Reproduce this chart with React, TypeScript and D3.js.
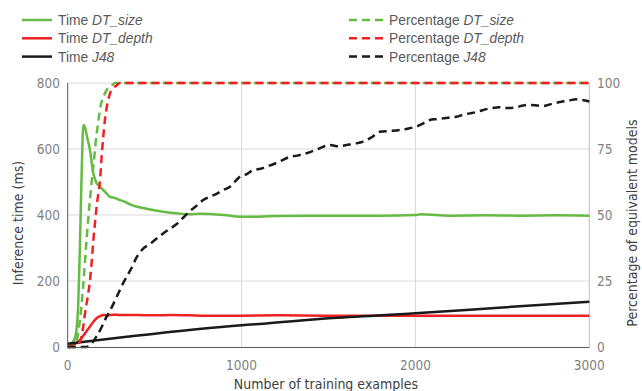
import React from "react";
import * as d3 from "d3";

const W = 642;
const H = 391;

// ---- data ----
const greenTimeX = [0, 20, 40, 50, 60, 70, 80, 90, 100, 110, 128, 147, 166, 186, 215, 243, 270, 301, 330, 358, 400, 433, 460, 491, 550, 627, 700, 760, 818, 900, 991, 1100, 1200, 1400, 1600, 1800, 2000, 2030, 2200, 2400, 2600, 2800, 3000];
const greenTimeY = [5, 10, 25, 50, 120, 300, 520, 673, 665, 640, 597, 527, 497, 485, 470, 455, 452, 445, 440, 432, 425, 421, 418, 415, 410, 405, 402, 404, 403, 400, 395, 395, 397, 398, 398, 398, 400, 402, 398, 399, 398, 399, 398];

const redTimeX = [0, 30, 50, 71, 100, 128, 150, 166, 185, 205, 230, 260, 300, 400, 500, 600, 700, 800, 1000, 1200, 1500, 1800, 2000, 2500, 3000];
const redTimeY = [0, 5, 12, 21, 42, 62, 78, 87, 93, 97, 96, 98, 97, 97, 96, 97, 96, 95, 95, 96, 95, 95, 95, 95, 95];

const blackTimeX = [0, 339, 1000, 1106, 1500, 2000, 2500, 3000];
const blackTimeY = [10, 31, 66, 70, 87, 102, 120, 137];

const greenPctX = [0, 30, 50, 60, 70, 80, 90, 100, 110, 120, 130, 140, 150, 160, 175, 186, 200, 214, 230, 250, 275, 300, 3000];
const greenPctY = [0, 0, 2, 5, 10, 16, 24, 33, 42, 50, 57, 64, 70, 77, 85, 90, 94, 96, 98, 99, 100, 100, 100];

const redPctX = [0, 50, 60, 70, 80, 90, 100, 115, 128, 140, 147, 160, 166, 176, 186, 195, 205, 214, 228, 243, 260, 280, 300, 3000];
const redPctY = [0, 0, 1, 2, 4, 8, 13, 19, 25, 34, 40, 49, 53, 58, 63, 72, 80, 86, 92, 96, 98, 99, 100, 100];

const blackPctX = [0, 60, 109, 140, 166, 195, 224, 253, 282, 310, 339, 368, 397, 430, 473, 510, 549, 580, 607, 635, 664, 695, 722, 750, 779, 820, 856, 895, 933, 960, 990, 1030, 1067, 1110, 1144, 1210, 1277, 1320, 1374, 1440, 1508, 1560, 1604, 1650, 1700, 1750, 1795, 1850, 1910, 1960, 2006, 2040, 2083, 2120, 2159, 2200, 2236, 2275, 2313, 2350, 2390, 2440, 2484, 2530, 2580, 2620, 2657, 2700, 2733, 2790, 2848, 2890, 2925, 2960, 3000];
const blackPctY = [0, 0, 0, 1.5, 4, 7.5, 11.5, 15, 19, 23, 26.6, 30, 34, 37, 39, 41, 43, 44.5, 45.6, 47, 49, 51, 52.5, 54, 55.7, 57, 58, 59.5, 60.7, 62.5, 64.5, 65.5, 67, 67.5, 68.3, 70, 72, 72.5, 73.4, 75, 76.5, 76, 76.5, 77, 77.8, 79.5, 81.5, 81.8, 82.2, 82.8, 83.5, 84.5, 86, 86.3, 86.6, 87, 87.2, 88, 88.5, 89, 89.8, 90.5, 90.8, 90.5, 90.8, 91.5, 91.7, 91.5, 91.3, 92.2, 93, 93.5, 93.8, 93.6, 93];

const xTicks = [0, 1000, 2000, 3000];
const yLeftTicks = [0, 200, 400, 600, 800];
const yRightTicks = [0, 25, 50, 75, 100];

const GREEN = "#66bb44";
const RED = "#ee2222";
const BLACK = "#1a1a1a";

const AXIS_FONT = "'DejaVu Sans Condensed', 'DejaVu Sans', sans-serif";
const LEGEND_FONT = "'Liberation Sans', Arial, sans-serif";

export default function App() {
  const x = d3.scaleLinear().domain([0, 3000]).range([67.7, 589.3]);
  const yL = d3.scaleLinear().domain([0, 800]).range([347, 83]);
  const yR = d3.scaleLinear().domain([0, 100]).range([347, 83]);

  const mk = (xs: number[], ys: number[], ys2: any) =>
    d3
      .line<number>()
      .x((_, i) => x(xs[i]))
      .y((v) => ys2(v))
      .curve(d3.curveMonotoneX)(ys) as string;

  const series = [
    { xs: greenTimeX, ys: greenTimeY, s: yL, c: GREEN, dash: null },
    { xs: redTimeX, ys: redTimeY, s: yL, c: RED, dash: null },
    { xs: blackTimeX, ys: blackTimeY, s: yL, c: BLACK, dash: null },
    { xs: greenPctX, ys: greenPctY, s: yR, c: GREEN, dash: "8,5" },
    { xs: redPctX, ys: redPctY, s: yR, c: RED, dash: "8,5" },
    { xs: blackPctX, ys: blackPctY, s: yR, c: BLACK, dash: "8,5" },
  ];

  const legendLeft = [
    { c: GREEN, a: "Time ", b: "DT_size" },
    { c: RED, a: "Time ", b: "DT_depth" },
    { c: BLACK, a: "Time ", b: "J48" },
  ];
  const legendRight = [
    { c: GREEN, a: "Percentage ", b: "DT_size" },
    { c: RED, a: "Percentage ", b: "DT_depth" },
    { c: BLACK, a: "Percentage ", b: "J48" },
  ];

  return (
    <svg
      width={W}
      height={H}
      style={{ position: "absolute", left: 0, top: 0, background: "#fff" }}
    >
      <rect width={W} height={H} fill="#fff" />
      {/* gridlines */}
      {yLeftTicks.slice(1).map((t) => (
        <line key={"gy" + t} x1={x(0)} x2={x(3000)} y1={yL(t)} y2={yL(t)} stroke="#d9d9d9" strokeWidth={1} />
      ))}
      {xTicks.slice(1, 3).map((t) => (
        <line key={"gx" + t} x1={x(t)} x2={x(t)} y1={yL(800)} y2={yL(0)} stroke="#d9d9d9" strokeWidth={1} />
      ))}
      {/* right axis */}
      <line x1={x(3000)} x2={x(3000)} y1={yR(100)} y2={yR(0)} stroke="#bfbfbf" strokeWidth={1} />
      {/* lines */}
      {series.map((s, i) => (
        <path
          key={i}
          d={mk(s.xs, s.ys, s.s)}
          fill="none"
          stroke={s.c}
          strokeWidth={2.5}
          strokeDasharray={s.dash || undefined}
          strokeLinejoin="round"
        />
      ))}
      {/* left & bottom axis */}
      <line x1={x(0)} x2={x(0)} y1={yL(800)} y2={yL(0) + 0.5} stroke="#595959" strokeWidth={1} />
      <line x1={x(0)} x2={x(3000)} y1={yL(0) + 0.5} y2={yL(0) + 0.5} stroke="#595959" strokeWidth={1} />
      {/* ticks labels */}
      {yLeftTicks.map((t) => (
        <text key={"yl" + t} x={60} y={yL(t)} dy="0.35em" textAnchor="end" fontFamily={AXIS_FONT} fontSize={13.5} fill="#7f7f7f">
          {t}
        </text>
      ))}
      {yRightTicks.map((t) => (
        <text key={"yr" + t} x={597} y={yR(t)} dy="0.35em" textAnchor="start" fontFamily={AXIS_FONT} fontSize={13.5} fill="#7f7f7f">
          {t}
        </text>
      ))}
      {xTicks.map((t) => (
        <text key={"x" + t} x={x(t)} y={370} textAnchor="middle" fontFamily={AXIS_FONT} fontSize={13.5} fill="#7f7f7f">
          {t}
        </text>
      ))}
      {/* axis titles */}
      <text x={326} y={389} textAnchor="middle" fontFamily={AXIS_FONT} fontSize={14} fill="#404040">
        Number of training examples
      </text>
      <text transform={`translate(23,223) rotate(-90)`} textAnchor="middle" fontFamily={AXIS_FONT} fontSize={14} fill="#404040">
        Inference time (ms)
      </text>
      <text transform={`translate(637,223) rotate(-90)`} textAnchor="middle" fontFamily={AXIS_FONT} fontSize={14} fill="#404040">
        Percentage of equivalent models
      </text>
      {/* legend */}
      {legendLeft.map((l, i) => {
        const y = 20 + i * 18.3;
        return (
          <g key={"ll" + i}>
            <line x1={22} x2={52} y1={y} y2={y} stroke={l.c} strokeWidth={2.5} />
            <text x={58} y={y + 5} fontFamily={LEGEND_FONT} fontSize={13.8} fill="#595959">
              {l.a}
              <tspan fontStyle="italic">{l.b}</tspan>
            </text>
          </g>
        );
      })}
      {legendRight.map((l, i) => {
        const y = 20 + i * 18.3;
        return (
          <g key={"lr" + i}>
            <line x1={349} x2={384} y1={y} y2={y} stroke={l.c} strokeWidth={2.5} strokeDasharray="8,5" />
            <text x={389} y={y + 5} fontFamily={LEGEND_FONT} fontSize={13.8} fill="#595959">
              {l.a}
              <tspan fontStyle="italic">{l.b}</tspan>
            </text>
          </g>
        );
      })}
    </svg>
  );
}
